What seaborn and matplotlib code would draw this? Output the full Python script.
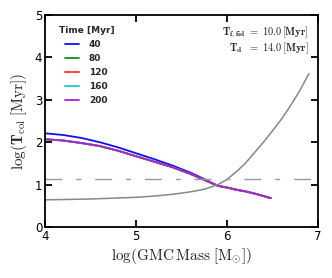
import numpy as np
import pandas as pd
import matplotlib
matplotlib.use("Agg")
import matplotlib.pyplot as plt
import seaborn as sns

# data
log_mass = [4.0, 4.2, 4.4, 4.6, 4.8, 5.0, 5.2, 5.4, 5.6, 5.75, 5.9,
            6.0, 6.1, 6.2, 6.3, 6.4, 6.48]
t40  = [2.21, 2.17, 2.10, 2.00, 1.88, 1.74, 1.60, 1.45, 1.28, 1.13, 0.97,
        0.93, 0.88, 0.84, 0.79, 0.73, 0.68]
t80  = [2.07, 2.04, 1.98, 1.91, 1.80, 1.67, 1.54, 1.41, 1.25, 1.11, 0.97,
        0.93, 0.88, 0.84, 0.79, 0.73, 0.68]
t120 = [2.07, 2.04, 1.98, 1.91, 1.80, 1.67, 1.54, 1.41, 1.25, 1.11, 0.97,
        0.93, 0.88, 0.84, 0.79, 0.73, 0.68]
t160 = [2.07, 2.04, 1.98, 1.91, 1.80, 1.67, 1.54, 1.41, 1.25, 1.11, 0.97,
        0.93, 0.88, 0.84, 0.79, 0.73, 0.68]
t200 = [2.07, 2.04, 1.98, 1.91, 1.80, 1.67, 1.54, 1.41, 1.25, 1.11, 0.97,
        0.93, 0.88, 0.84, 0.79, 0.73, 0.68]
times = ['40', '80', '120', '160', '200']
colors = ['#1010f0', '#109010', '#ff3030', '#20c8c8', '#b020c8']

# gray reference curve and horizontal dash-dot level
ref_mass = [4.0, 4.25, 4.5, 4.75, 5.0, 5.2, 5.4, 5.6, 5.75, 5.9, 6.0, 6.1,
            6.2, 6.3, 6.4, 6.5, 6.6, 6.7, 6.8, 6.9]
ref_t = [0.64, 0.65, 0.66, 0.68, 0.70, 0.73, 0.77, 0.83, 0.89, 1.00, 1.12, 1.30,
         1.50, 1.75, 2.00, 2.27, 2.55, 2.87, 3.22, 3.62]
t_level = 1.14

sns.set_style("ticks")
plt.rcParams['font.family'] = ['DejaVu Sans']
plt.rcParams['mathtext.fontset'] = 'cm'

fig = plt.figure(figsize=(3.32, 2.78), dpi=100)
ax = fig.add_axes([0.1355, 0.1835, 0.8225, 0.7625])

series = [t40, t80, t120, t160, t200]
for lab, col, vals in zip(times, colors, series):
    df = pd.DataFrame({'m': log_mass, 't': vals})
    sns.lineplot(data=df, x='m', y='t', color=col, lw=1.3, label=lab, ax=ax)

ref = pd.DataFrame({'m': ref_mass, 't': ref_t})
sns.lineplot(data=ref, x='m', y='t', color='#888888', lw=1.1, ax=ax, label='_nolegend_')
ax.axhline(t_level, color='#999999', lw=1.0, ls=(0, (12.2, 10, 3.6, 10)))

ax.set_xlim(4, 7)
ax.set_ylim(0, 5)
ax.set_xticks([4, 5, 6, 7])
ax.set_yticks([0, 1, 2, 3, 4, 5])
ax.tick_params(direction='in', top=True, right=True, length=5, width=1.3,
               labelsize=8.5, pad=2, colors='black')
for s in ax.spines.values():
    s.set_linewidth(1.3)
    s.set_color('black')

ax.set_xlabel(r'$\log(\mathrm{GMC\,Mass}\;[\mathrm{M}_{\odot}])$', fontsize=11, labelpad=2)
ax.set_ylabel(r'$\log(\mathbf{T}_{\mathrm{col}}\;[\mathrm{Myr}])$', fontsize=11, labelpad=4)

leg = ax.legend(loc='upper left', bbox_to_anchor=(0.02, 0.985), frameon=False,
                title='Time [Myr]', prop={'size': 6.5, 'weight': 'bold'},
                handlelength=1.5, handletextpad=1.1, labelspacing=0.55)
leg.get_title().set_fontsize(6.5)
leg.get_title().set_fontweight('bold')

ax.text(0.965, 0.955, r'$\mathbf{T_{f,fid}\ =\ 10.0\,[Myr]}$', transform=ax.transAxes,
        ha='right', va='top', fontsize=7.5)
ax.text(0.965, 0.88, r'$\mathbf{T_{d}\ \ =\ 14.0\,[Myr]}$', transform=ax.transAxes,
        ha='right', va='top', fontsize=7.5)

fig.savefig('out.png', dpi=100)
